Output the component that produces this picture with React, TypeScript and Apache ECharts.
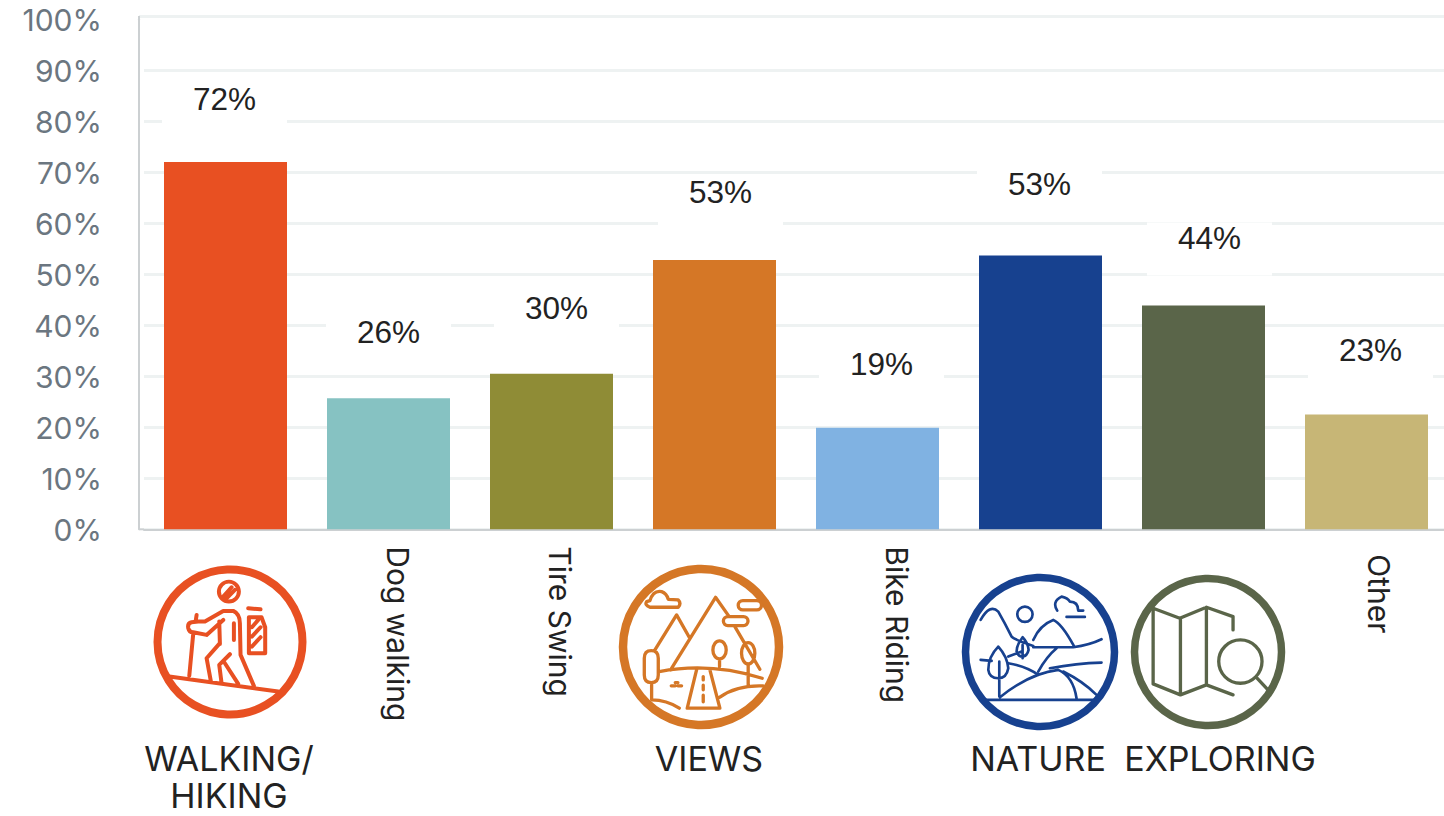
import React, { useEffect, useRef } from "react";
import * as echarts from "echarts";

const categories = ["WALKING/HIKING", "Dog walking", "Tire Swing", "VIEWS", "Bike Riding", "NATURE", "EXPLORING", "Other"];
const barValues = [72, 25.7, 30.5, 52.8, 19.9, 53.7, 43.9, 22.5];
const valueLabels = ["72%", "26%", "30%", "53%", "19%", "53%", "44%", "23%"];
const barColors = ["#E85022", "#86C2C2", "#8F8C36", "#D57726", "#80B2E2", "#17418F", "#5A6549", "#C7B676"];
const labelLift = [26, 29, 29, 31, 27, 34, 30, 28];
const labelShift = [-1, 0, 5, 6, 4, -1, 6, 4];
const axisLabelShift = [0, 9.5, 8.5, 0, 19.5, 0, 0, 12.5];
const axisLabelStart = [0, 0, 0, 0, 0, 0, 0, 8];
const iconNames = ["WALKING/HIKING", "VIEWS", "NATURE", "EXPLORING"];
const SANS = "Inter, 'Liberation Sans', Arial, sans-serif";
const HELV = "'Liberation Sans', Arial, sans-serif";

const hikerPath =
  "M178,408L190,280M200,225L197,245M205,245L185,247Q172,250 175,265Q178,278 190,277L230,285L280,240M205,245L225,245L280,213L310,213Q330,222 330,250L332,345L372,438M268,312L230,355L243,425M300,343L268,375L275,430M285,370L325,432M312,250L312,300M268,245L270,312M118,410L445,455" +
  "M327,155A30,30 0 1 1 267,155A30,30 0 1 1 327,155M280,170L305,142M290,175L315,150" +
  "M357,232L395,232L406,262L406,340L357,340ZM355,205L392,208M366,262L385,240M366,290L392,262M366,320L392,292";
const viewsPath =
  "M150,122Q160,90 185,95Q200,100 205,118L235,120Q245,130 235,142L150,142Q133,135 140,125Z" +
  "M429,122L471,122A14,14 0 0 1 471,150L429,150A14,14 0 0 1 429,122ZM384,170L431,170A13.5,13.5 0 0 1 431,197L384,197A13.5,13.5 0 0 1 384,170Z" +
  "M212,330L347,112L388,170M405,200L480,328M165,270L230,165L268,232" +
  "M154,272Q175,272 175,295L175,345Q175,368 154,368Q133,368 133,345L133,295Q133,272 154,272ZM155,368L155,420Q200,420 238,445" +
  "M379,270A20,27 0 1 1 339,270A20,27 0 1 1 379,270M359,297L359,320" +
  "M465,280A20,32 0 1 1 425,280A20,32 0 1 1 465,280M445,312L445,375" +
  "M178,335Q330,305 487,355M290,330L262,445L360,445L330,330M360,412Q410,375 490,378" +
  "M310,350L310,360M310,376L310,390M310,406L310,426M214,378L226,378M226,368L234,368M234,378L245,378";
const naturePath =
  "M92,180Q120,130 145,155Q165,190 185,230Q195,240 250,258M248,163A23,23 0 1 1 202,163A23,23 0 1 1 248,163" +
  "M322,152Q305,125 335,110Q355,115 360,125Q385,125 385,152L400,152M350,171L405,171" +
  "M250,240Q270,195 310,180Q335,190 372,258M250,262Q300,262 370,262Q420,255 455,238M300,325Q380,310 455,308" +
  "M320,265Q290,290 265,335M92,300L125,303M175,310Q230,320 265,345M175,290L215,275" +
  "M145,260Q115,290 115,330Q118,355 145,355Q170,355 175,325Q172,290 145,260ZM148,305L148,410" +
  "M218,232Q200,255 200,275Q205,290 218,290Q232,288 236,270Q235,250 218,232ZM218,255L218,295" +
  "M150,412Q240,340 325,330Q370,350 380,415M340,335Q400,365 440,405M110,420L430,420";
const exploringPath =
  "M850,210L850,170L770,142L690,175L610,145L610,372L692,405L770,375L850,405M692,175L692,405M770,142L770,375" +
  "M937,305A65,65 0 1 1 807,305A65,65 0 1 1 937,305M922,355L955,390";

echarts.graphic.registerShape("hikerIcon", echarts.graphic.extendPath(hikerPath, {}));
echarts.graphic.registerShape("viewsIcon", echarts.graphic.extendPath(viewsPath, {}));
echarts.graphic.registerShape("natureIcon", echarts.graphic.extendPath(naturePath, {}));
echarts.graphic.registerShape("exploringIcon", echarts.graphic.extendPath(exploringPath, {}));

const icon = (type: string, ox: number, oy: number, color: string, lineWidth: number) => ({
  type, x: ox, y: oy, scaleX: 1 / 3, scaleY: 1 / 3, silent: true,
  style: { stroke: color, fill: "none", lineWidth, lineCap: "round", lineJoin: "round" },
});
const ring = (cx: number, cy: number, r: number, w: number, color: string) => ({
  type: "circle", shape: { cx, cy, r }, silent: true,
  style: { stroke: color, fill: "none", lineWidth: w },
});
const caption = (text: string, cx: number, y: number) => ({
  type: "text", x: cx, y, silent: true,
  style: { text, fontFamily: SANS, fontSize: 34, fill: "#222222", align: "center", verticalAlign: "middle" },
});
const rule = (x1: number, y1: number, x2: number, y2: number, stroke: string, lineWidth: number) => ({
  type: "line", silent: true, shape: { x1, y1, x2, y2 }, style: { stroke, lineWidth },
});

export default function App() {
  const ref = useRef<HTMLDivElement>(null);
  useEffect(() => {
    document.body.style.margin = "0";
    const chart = echarts.init(ref.current!, null, { renderer: "svg" });
    chart.setOption({
      animation: false,
      backgroundColor: "#ffffff",
      grid: { left: 144, top: 19.3, width: 1304, height: 510, containLabel: false },
      xAxis: {
        type: "category",
        data: categories.map((c, i) => ({
          value: c,
          textStyle: {
            verticalAlign: "bottom",
            lineHeight: axisLabelShift[i] * 2,
            padding: [0, 0, 0, axisLabelStart[i]],
          },
        })),
        axisLine: { lineStyle: { color: "#ccd0d2", width: 2 } },
        axisTick: { show: false },
        axisLabel: {
          interval: 0, rotate: -90, margin: 17,
          fontFamily: SANS, fontSize: 30, color: "#222222",
          formatter: (v: string) => (iconNames.includes(v) ? "" : v),
        },
      },
      yAxis: {
        type: "value", min: 0, max: 100, interval: 10, offset: 5,
        axisLine: { show: true, lineStyle: { color: "#ccd0d2", width: 2 } },
        axisTick: { show: false },
        axisLabel: {
          margin: 37, fontFamily: SANS, fontSize: 30, color: "#6b7680",
          verticalAlign: "top", lineHeight: 2, formatter: "{value}%",
        },
        splitLine: { showMaxLine: false, lineStyle: { color: "#eef2f2", width: 3 } },
      },
      series: [{
        type: "bar",
        barWidth: 123,
        data: barValues.map((v, i) => ({
          value: v,
          itemStyle: { color: barColors[i] },
          label: {
            show: true, position: "top", distance: labelLift[i], offset: [labelShift[i], 0],
            formatter: () => valueLabels[i],
            fontFamily: HELV, fontSize: 31.5, color: "#222222",
            backgroundColor: "#ffffff", padding: [0, 31, 21, 31],
          },
        })),
      }],
      graphic: [
        rule(139, 529.3, 145, 529.3, "#ccd0d2", 2),
        rule(139, 16.5, 1444, 16.5, "#eef2f2", 3),
        rule(139, 16, 139, 20, "#ccd0d2", 2),
        ring(230, 642, 72.5, 8, barColors[0]), icon("hikerIcon", 130, 540, barColors[0], 12),
        ring(701, 647, 78, 8.5, barColors[3]), icon("viewsIcon", 600, 560, barColors[3], 10),
        ring(1040, 652, 74.5, 7.5, barColors[5]), icon("natureIcon", 950, 560, barColors[5], 8),
        ring(1208, 652, 73.5, 7.5, barColors[6]), icon("exploringIcon", 950, 560, barColors[6], 10),
        caption("WALKING/", 229, 758), caption("HIKING", 229, 795),
        caption("VIEWS", 709, 758), caption("NATURE", 1038, 758), caption("EXPLORING", 1220, 758),
      ],
    });
    return () => chart.dispose();
  }, []);
  return (
    <div style={{ position: "absolute", left: 0, top: 0, width: 1444, height: 816, overflow: "hidden" }}>
      <div ref={ref} style={{ width: 1460, height: 816 }} />
    </div>
  );
}
